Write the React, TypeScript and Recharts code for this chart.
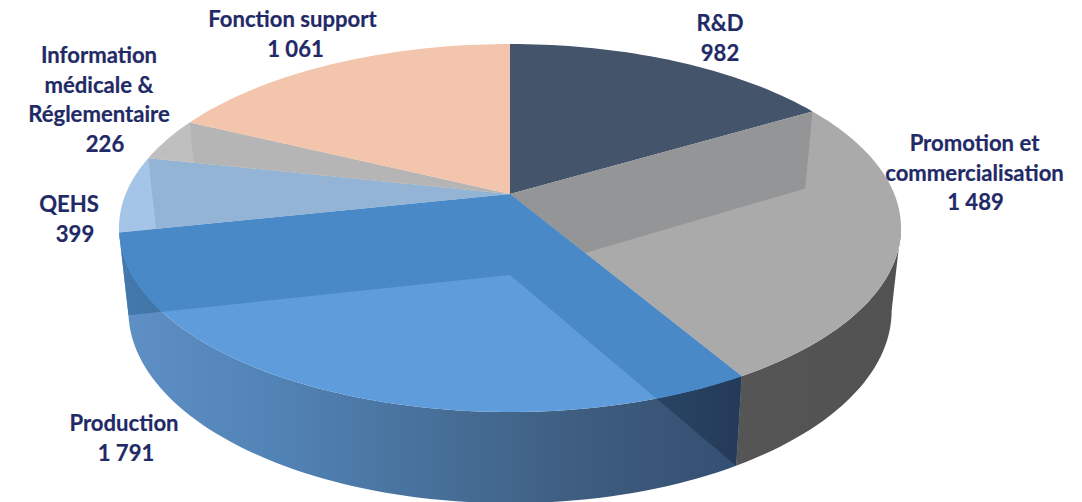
import React from "react";
import { PieChart, Pie } from "recharts";

const CATEGORIES = ["R&D", "Promotion et commercialisation", "Production", "QEHS", "Information médicale & Réglementaire", "Fonction support"];
const HEADCOUNTS = [982, 1489, 1791, 399, 226, 1061];
const LABEL_LINES = [["R&D"], ["Promotion et", "commercialisation"], ["Production"], ["QEHS"], ["Information", "médicale &", "Réglementaire"], ["Fonction support"]];

const TOP_COLORS = ["#44546a", "#aaaaaa", "#5e9cdc", "#a4c5e7", "#bfbfbf", "#f2c5ac"];
const SEEN_THROUGH_COLORS = ["#44546a", "#949596", "#4a89c8", "#93b4d5", "#b5b5b5", "#f2c5ac"];
const OUTER_STOPS: (string[] | null)[] = [null, ["#555555", "#525252"], ["#5f90c6", "#5283b6", "#47709a", "#3e5c7e", "#334f72"], null, null, null];
const CUT_STOPS: (string[] | null)[] = [null, null, ["#4379ad", "#243b58"], null, null, null];

// label layout: centre x, first baseline, x shift of the number line
const LABEL_LAYOUT = [
  { x: 720, y: 31, dx: 0 },
  { x: 974.5, y: 151, dx: 1 },
  { x: 124, y: 431, dx: 2 },
  { x: 69, y: 212, dx: 6 },
  { x: 99, y: 63, dx: 6 },
  { x: 292.5, y: 27, dx: 3 },
];

const rows = CATEGORIES.map((name, i) => ({ name, value: HEADCOUNTS[i] }));

const CX = 510;
const CY = 194;
const RADIUS = 384.3;
const PERSPECTIVE = 0.1848;
const TOP_FACE = { dy: 0, rx: 1, ry: 0.4624 };
const BOTTOM_FACE = { dy: 81, rx: 0.976, ry: 0.484 };
const RIM_LIMITS = [-169.4, -10.6]; // the part of the rim that faces the viewer, in pie angles

type Face = { dy: number; rx: number; ry: number };

function project(cx: number, cy: number, r: number, face: Face, deg: number, rho = 1): [number, number] {
  const a = (deg * Math.PI) / 180;
  const X = Math.cos(a) * rho;
  const Y = -Math.sin(a) * rho;
  const w = 1 - PERSPECTIVE * Y;
  return [cx + (r * face.rx * X) / w, cy + face.dy + (r * face.ry * Y) / w];
}

function arc(cx: number, cy: number, r: number, face: Face, from: number, to: number): [number, number][] {
  const n = Math.max(2, Math.ceil(Math.abs(to - from) / 1.5));
  const pts: [number, number][] = [];
  for (let i = 0; i <= n; i++) pts.push(project(cx, cy, r, face, from + ((to - from) * i) / n));
  return pts;
}

const toPath = (pts: [number, number][]) => "M" + pts.map((p) => p[0].toFixed(2) + " " + p[1].toFixed(2)).join("L") + "Z";

function cutWall(cx: number, cy: number, r: number, deg: number): [number, number][] {
  return [
    project(cx, cy, r, TOP_FACE, deg, 0),
    project(cx, cy, r, TOP_FACE, deg),
    project(cx, cy, r, BOTTOM_FACE, deg),
    project(cx, cy, r, BOTTOM_FACE, deg, 0),
  ];
}

function gradient(id: string, stops: string[]) {
  return (
    <linearGradient id={id} x1="0" y1="0" x2="1" y2="0">
      {stops.map((c, i) => (
        <stop key={i} offset={i / (stops.length - 1)} stopColor={c} />
      ))}
    </linearGradient>
  );
}

function SideShape(props: any) {
  const { cx, cy, outerRadius, startAngle, endAngle, name } = props;
  const i = CATEGORIES.indexOf(name);
  const outer = OUTER_STOPS[i];
  if (!outer) return null;
  const hi = Math.max(startAngle, endAngle);
  const lo = Math.min(startAngle, endAngle);
  const from = Math.min(hi, RIM_LIMITS[1]);
  const to = Math.max(lo, RIM_LIMITS[0]);
  const top = arc(cx, cy, outerRadius, TOP_FACE, from, to);
  const bottom = arc(cx, cy, outerRadius, BOTTOM_FACE, to, from);
  const cut = CUT_STOPS[i];
  const cuts = toPath(cutWall(cx, cy, outerRadius, hi)) + toPath(cutWall(cx, cy, outerRadius, lo));
  return (
    <g>
      <defs>
        {gradient("outer" + i, outer)}
        {cut && gradient("cut" + i, cut)}
      </defs>
      <path d={toPath([...top, ...bottom])} fill={`url(#outer${i})`} />
      {cut && <path d={cuts} fill={`url(#cut${i})`} />}
    </g>
  );
}

function TopShape(props: any) {
  const { cx, cy, outerRadius, startAngle, endAngle, name } = props;
  const i = CATEGORIES.indexOf(name);
  const surface = toPath([project(cx, cy, outerRadius, TOP_FACE, startAngle, 0), ...arc(cx, cy, outerRadius, TOP_FACE, startAngle, endAngle)]);
  const cuts = toPath(cutWall(cx, cy, outerRadius, startAngle)) + toPath(cutWall(cx, cy, outerRadius, endAngle));
  return (
    <g>
      <clipPath id={"surface" + i}>
        <path d={surface} />
      </clipPath>
      <path d={surface} fill={TOP_COLORS[i]} />
      <path d={cuts} fill={SEEN_THROUGH_COLORS[i]} clipPath={`url(#surface${i})`} />
    </g>
  );
}

const formatCount = (v: number) => String(v).replace(/\B(?=(\d{3})+$)/g, " ");

function renderLabel(props: any) {
  const i = CATEGORIES.indexOf(props.name);
  const { x, y, dx } = LABEL_LAYOUT[i];
  const lines = LABEL_LINES[i];
  return (
    <text key={i} textAnchor="middle" fontFamily="Lato" fontWeight={700} fontSize={22.1} fill="#1f2a66" stroke="#1f2a66" strokeWidth={0.2}>
      {lines.map((line, n) => (
        <tspan key={n} x={x} y={y + n * 29.6}>
          {line}
        </tspan>
      ))}
      <tspan x={x + dx} y={y + lines.length * 29.6}>
        {formatCount(HEADCOUNTS[i])}
      </tspan>
    </text>
  );
}

export default function App() {
  const pieProps = {
    data: rows,
    dataKey: "value",
    nameKey: "name",
    cx: CX,
    cy: CY,
    innerRadius: 0,
    outerRadius: RADIUS,
    startAngle: 90,
    endAngle: -270,
    stroke: "none",
    isAnimationActive: false,
  };
  return (
    <div style={{ position: "absolute", left: 0, top: 0, width: 1082, height: 502, overflow: "hidden", background: "#fff" }}>
      <PieChart width={1082} height={502} margin={{ top: 0, right: 0, bottom: 0, left: 0 }}>
        <Pie {...pieProps} shape={SideShape} />
        <Pie {...pieProps} shape={TopShape} label={renderLabel} labelLine={false} />
      </PieChart>
    </div>
  );
}
